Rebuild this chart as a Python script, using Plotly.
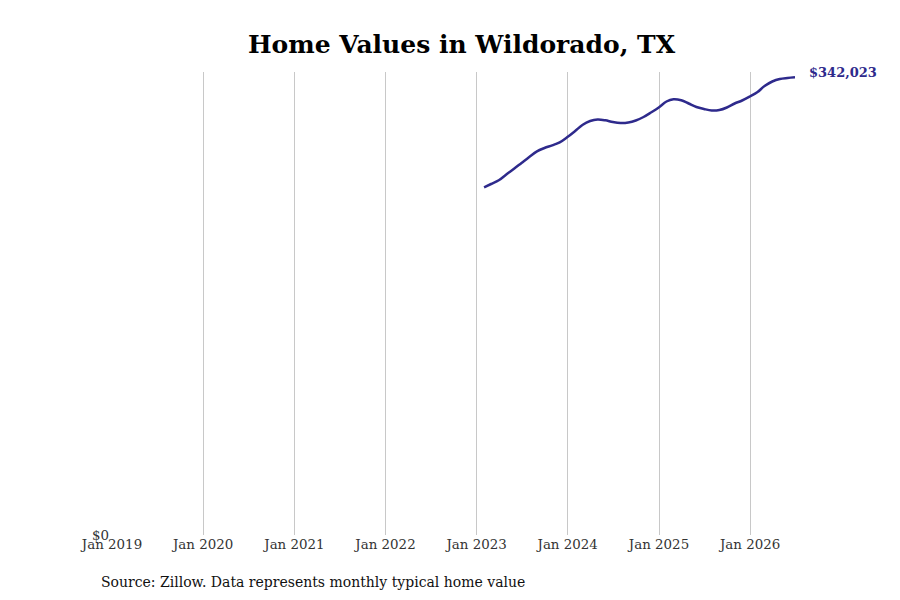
import plotly.graph_objects as go
import pandas as pd

dates = pd.date_range("2023-01-31", "2026-06-30", freq="ME").strftime("%Y-%m-%d").tolist()
values = [259830, 262300, 265070, 269400, 273660, 278000, 282480, 286740, 289200, 291220,
          293460, 297420, 301910, 306390, 309380, 310500, 309900, 308630, 307890, 308260,
          309760, 312370, 315730, 319470, 323950, 325600, 324850, 322460, 319840, 318350,
          317230, 317600, 319470, 322460, 324700, 327690, 331050, 335540, 338900, 340770,
          341510, 342023]
tick_vals = ["2019-01-01", "2020-01-01", "2021-01-01", "2022-01-01", "2023-01-01",
             "2024-01-01", "2025-01-01", "2026-01-01"]
tick_text = ["Jan 2019", "Jan 2020", "Jan 2021", "Jan 2022", "Jan 2023",
             "Jan 2024", "Jan 2025", "Jan 2026"]
title_text = "Home Values in Wildorado, TX"
source_text = "Source: Zillow. Data represents monthly typical home value"
line_color = "#2e2a8c"
font_family = "DejaVu Serif"

L, R, T, B = 104, 787, 64, 527  # plot area in page pixels (div offset by body margin)

fig = go.Figure()
fig.add_trace(go.Scatter(x=dates, y=values, mode="lines",
                         line=dict(color=line_color, width=2.5, shape="spline"),
                         hoverinfo="x+y", showlegend=False))

fig.add_annotation(x=dates[-1], y=values[-1], xref="x", yref="y",
                   text="<b>${:,}</b>".format(values[-1]), showarrow=False,
                   xanchor="left", yanchor="middle", xshift=12, yshift=5,
                   font=dict(family=font_family, size=13, color=line_color))
fig.add_annotation(xref="paper", yref="paper",
                   x=(91 - L) / (R - L), y=(B - 574) / (B - T),
                   text=source_text, showarrow=False, xanchor="left", yanchor="middle",
                   font=dict(family=font_family, size=14, color="#111111"))

fig.update_layout(
    width=900, height=600,
    margin=dict(l=L, r=900 - R, t=T, b=600 - B),
    paper_bgcolor="white", plot_bgcolor="white",
    font=dict(family=font_family, size=13, color="#333333"),
    title=dict(text="<b>" + title_text + "</b>", x=453.5 / 900, xanchor="center",
               y=1 - 36 / 600, yanchor="middle",
               font=dict(family=font_family, size=25, color="#000000")),
    xaxis=dict(type="date", range=["2019-01-01", dates[-1]],
               tickvals=tick_vals, ticktext=tick_text,
               showgrid=True, gridcolor="#c8c8c8", gridwidth=1,
               zeroline=False, showline=False, ticks="",
               tickfont=dict(family=font_family, size=13.4, color="#333333")),
    yaxis=dict(range=[0, 346000], tickvals=[0], ticktext=["$0"],
               showgrid=False, zeroline=False, showline=False, ticks="",
               ticklabelstandoff=2,
               tickfont=dict(family=font_family, size=13.4, color="#333333")),
)

fig.write_html("out.html")
